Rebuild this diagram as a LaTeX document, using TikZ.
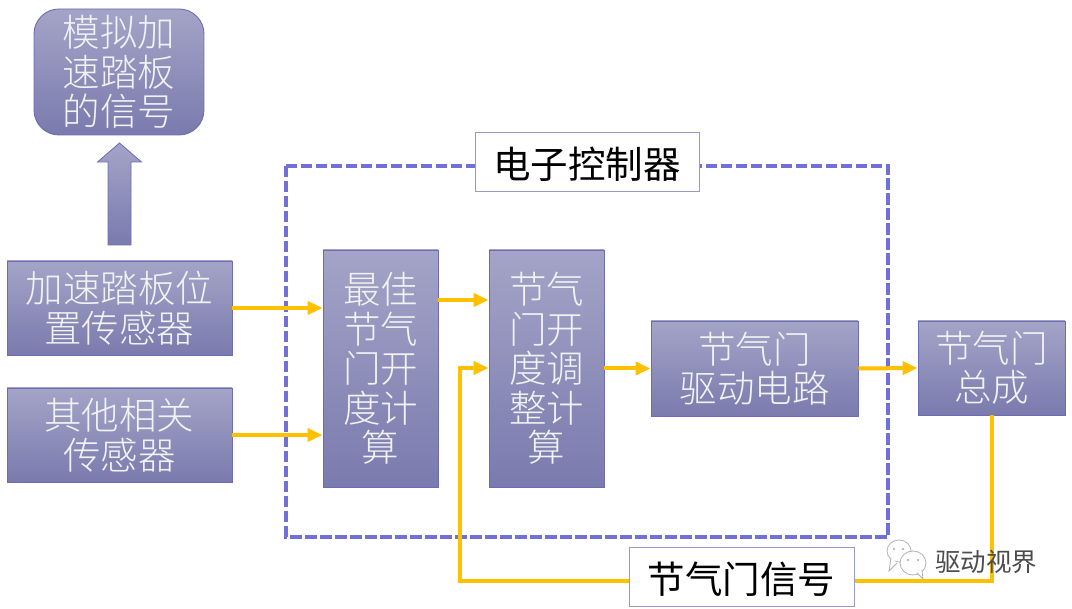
\documentclass[tikz,border=0pt]{standalone}
\usepackage{fontspec}
\setmainfont{Noto Sans CJK SC}
\newfontfamily\lightcjk{Noto Sans CJK SC Light}
\usetikzlibrary{arrows.meta,calc}
\definecolor{fillTop}{HTML}{A4A4C8}
\definecolor{fillBot}{HTML}{7A7AAE}
\definecolor{edgeBlue}{HTML}{6C6CB4}
\definecolor{dashBlue}{HTML}{7070D8}
\definecolor{wire}{HTML}{FFC000}
\definecolor{capEdge}{HTML}{9A9AC8}
\tikzset{
  x=1pt,y=-1pt,
  gradbox/.style={draw=edgeBlue,line width=.9pt,top color=fillTop,bottom color=fillBot,
    text=white!95!black,font=\lightcjk\fontsize{37.5}{39.5}\selectfont,align=center,inner sep=0pt,
    execute at begin node={\rule{0pt}{39pt}}},
  capbox/.style={draw=capEdge,line width=1pt,fill=white,text=black,
    font=\fontsize{37.5}{39}\selectfont,align=center,inner sep=0pt,
    execute at begin node={\rule{0pt}{36pt}}},
  wireline/.style={draw=wire,line width=4pt},
  wirearrow/.style={wireline,-{Triangle[length=15pt,width=13pt,fill=wire]}},
  dashframe/.style={draw=dashBlue,line width=3.4pt,dash pattern=on 11.5pt off 3.5pt},
  mark text/.style={text=black!70,font=\fontsize{25.5}{26}\selectfont,inner sep=0pt},
  chatbubble/.style={draw=black!30,line width=.8pt,fill=white},
}
\begin{document}
\begin{tikzpicture}
\useasboundingbox (0,0) rectangle (1072,609);
\fill[white] (0,0) rectangle (1072,609);
% frame
\draw[dashframe] (286,166) rectangle (888,537);
% nodes
\node[gradbox,rounded corners=25pt,minimum width=170pt,minimum height=126pt] (sim) at (119,72) {模拟加\\速踏板\\的信号};
\node[gradbox,minimum width=225pt,minimum height=94pt] (pedal) at (119.5,308) {加速踏板位\\置传感器};
\node[gradbox,minimum width=225pt,minimum height=94pt] (other) at (119.5,435) {其他相关\\传感器};
\node[gradbox,minimum width=115pt,minimum height=237pt] (best) at (380.5,368.5) {最佳\\节气\\门开\\度计\\算};
\node[gradbox,minimum width=115pt,minimum height=237pt] (adj) at (546.5,368.5) {节气\\门开\\度调\\整计\\算};
\node[gradbox,minimum width=207pt,minimum height=95pt] (drive) at (754.5,368.5) {节气门\\驱动电路};
\node[gradbox,minimum width=147pt,minimum height=94pt] (asm) at (991.5,368) {节气门\\总成};
\node[capbox,minimum width=224pt,minimum height=59pt] (ctrl) at (587,162.5) {电子控制器};
% up arrow
\path[draw=edgeBlue,line width=.8pt,top color=fillTop,bottom color=fillBot]
  (119.5,143) -- (141.5,162) -- (131,162) -- (131,245) -- (108,245) -- (108,162) -- (97.5,162) -- cycle;
% connectors
\draw[wirearrow] (pedal.east) -- (best.west |- pedal.east);
\draw[wirearrow] (other.east) -- (best.west |- other.east);
\coordinate (bestOut) at (best.east |- 0,300);
\draw[wirearrow] (bestOut) -- (adj.west |- bestOut);
\draw[wirearrow] (adj.east) -- (drive.west);
\draw[wirearrow] (drive.east) -- (asm.west);
\node[capbox,minimum width=225pt,minimum height=59pt] (sig) at (741.5,577.5) {节气门信号};
\coordinate (bendR) at (asm.south |- 0,581);
\coordinate (bendL) at (460,581);
\coordinate (adjIn) at (adj.west |- 0,368);
\draw[wireline,line join=miter] (asm.south) -- (bendR) -- (sig.east |- bendR);
\draw[wirearrow,line join=miter] (sig.west |- bendL) -- (bendL) -- (bendL |- adjIn) -- (adjIn);
% watermark
\draw[chatbubble] (899,551) ellipse [x radius=12pt,y radius=11pt];
\draw[chatbubble] (891,558) -- (889,571) -- (897,563);
\draw[chatbubble] (913,563) ellipse [x radius=13pt,y radius=12pt];
\draw[chatbubble] (917,573) -- (923,579) -- (922,570);
\fill[black!35] (894,549) circle (1.2pt) (903,549) circle (1.2pt) (908,560) circle (1.2pt) (918,560) circle (1.2pt);
\node[mark text,anchor=west] (mark) at (935,562) {驱动视界};
\end{tikzpicture}
\end{document}
